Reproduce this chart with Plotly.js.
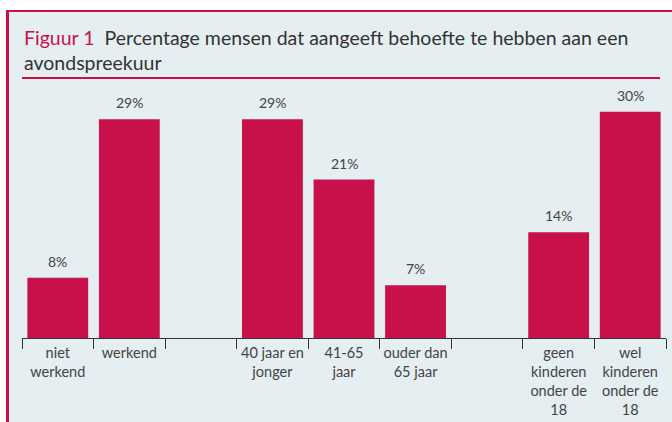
<!DOCTYPE html>
<html>
<head>
<meta charset="utf-8">
<script src="https://cdn.plot.ly/plotly-3.0.1.min.js"></script>
<style>
  html, body { margin:0; padding:0; background:#ffffff; width:672px; height:422px; overflow:hidden; }
  #panel { position:absolute; left:6px; top:10px; width:680px; height:420px; background:#e5eef1;
           border-top:2px solid #c8104a; border-left:3px solid #c8104a; box-sizing:border-box; }
  #sep { position:absolute; left:22px; top:77px; width:638px; height:2px; background:#c8104a; }
  #chart { position:absolute; left:0; top:0; width:672px; height:422px; }
</style>
</head>
<body>
<div id="panel"></div>
<div id="sep"></div>
<div id="chart"></div>
<script>
const categories = [
  'niet<br>werkend',
  'werkend',
  ' ',
  '40 jaar en<br>jonger',
  '41-65<br>jaar',
  'ouder dan<br>65 jaar',
  '  ',
  'geen<br>kinderen<br>onder de<br>18',
  'wel<br>kinderen<br>onder de<br>18'
];
const values = [8, 29, null, 29, 21, 7, null, 14, 30];
const valueLabels = ['8%', '29%', '', '29%', '21%', '7%', '', '14%', '30%'];

const titleText = '<span style="color:#c8104a">Figuur 1</span>  Percentage mensen dat aangeeft behoefte te hebben aan een<br>avondspreekuur';

const annotations = [];
categories.forEach((c, i) => {
  if (values[i] !== null) {
    annotations.push({
      x: c, y: values[i], xref: 'x', yref: 'y',
      text: valueLabels[i], showarrow: false,
      yanchor: 'bottom', yshift: 6,
      font: { family: 'Lato, sans-serif', size: 14, color: '#444444' }
    });
  }
});
annotations.push({
  x: 0, y: 1, xref: 'paper', yref: 'paper', xanchor: 'left', yanchor: 'middle',
  align: 'left', yshift: 39, showarrow: false, text: titleText,
  font: { family: 'Lato, sans-serif', size: 19.5, color: '#333333' }
});

const trace = {
  type: 'bar',
  x: categories,
  y: values,
  marker: { color: '#c8104a' },
  hoverinfo: 'none'
};

const layout = {
  width: 672, height: 422,
  margin: { l: 22, r: 6, t: 89, b: 84 },
  paper_bgcolor: 'rgba(0,0,0,0)',
  plot_bgcolor: 'rgba(0,0,0,0)',
  showlegend: false,
  bargap: 0.15,
  xaxis: {
    type: 'category',
    categoryorder: 'array',
    categoryarray: categories,
    showline: true, linecolor: '#333333', linewidth: 1,
    ticks: 'outside', tickson: 'boundaries', ticklen: 10, tickcolor: '#333333', tickwidth: 1,
    showgrid: false, zeroline: false,
    tickangle: 0,
    tickfont: { family: 'Lato, sans-serif', size: 14.5, color: '#444444' },
    ticklabelstandoff: 2
  },
  yaxis: {
    range: [0, 33],
    visible: false,
    showgrid: false, zeroline: false
  },
  annotations: annotations
};

Plotly.newPlot('chart', [trace], layout, { staticPlot: true, displayModeBar: false });
</script>
</body>
</html>
